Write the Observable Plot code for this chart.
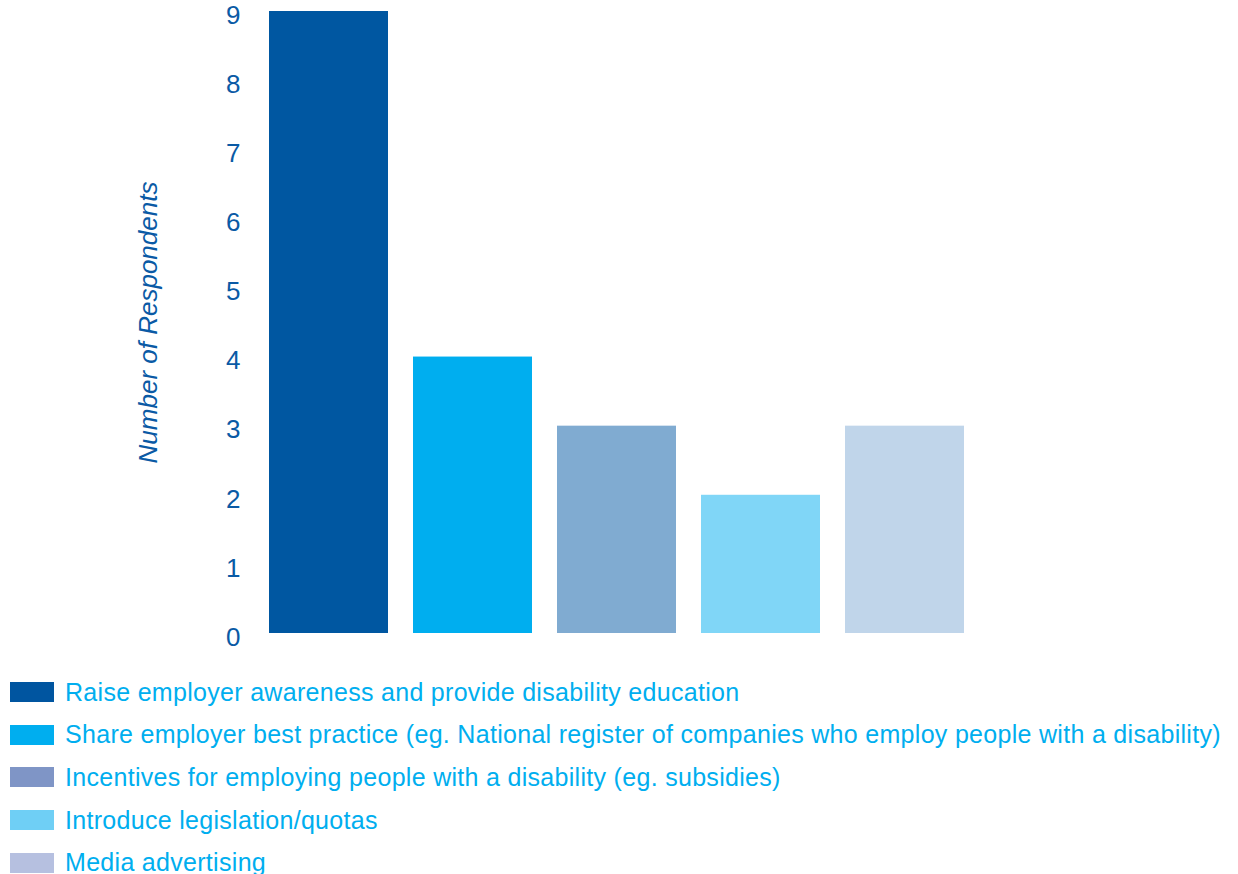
<!DOCTYPE html>
<html>
<head>
<meta charset="utf-8">
<script src="https://cdn.jsdelivr.net/npm/d3@7"></script>
<script src="https://cdn.jsdelivr.net/npm/@observablehq/plot@0.6"></script>
<style>
  html, body { margin: 0; padding: 0; background: #fff; width: 1238px; height: 874px; overflow: hidden; }
  body { font-family: "Liberation Sans", Arial, sans-serif; }
  #chart svg { display: block; overflow: visible; }
  [aria-label="y-axis label"] text { font-style: italic; }
  #legend { margin-top: 26px; }
  .row { display: flex; align-items: center; height: 42.6px; }
  .sw { width: 44px; height: 20px; margin-left: 10px; margin-right: 11px; flex: none; }
  .lab { color: #00aeef; font-size: 25px; letter-spacing: 0.3px; white-space: nowrap; }
</style>
</head>
<body>
<div id="chart"></div>
<div id="legend"></div>
<script>
const categories = [
  "Raise employer awareness and provide disability education",
  "Share employer best practice (eg. National register of companies who employ people with a disability)",
  "Incentives for employing people with a disability (eg. subsidies)",
  "Introduce legislation/quotas",
  "Media advertising"
];
const respondents = [9, 4, 3, 2, 3];
const barColors = ["#0057a1", "#00aeef", "#80abd1", "#80d6f7", "#c0d5ea"];
const legendColors = ["#0055a0", "#00aeef", "#7f95c6", "#6fcff5", "#b6c0e0"];
const yTicks = [0, 1, 2, 3, 4, 5, 6, 7, 8, 9];

const data = categories.map((c, i) => ({category: c, value: respondents[i], color: barColors[i]}));

const chart = Plot.plot({
  width: 1238,
  height: 645,
  marginLeft: 269,
  marginRight: 273,
  marginTop: 11,
  marginBottom: 12,
  style: {fontFamily: "Liberation Sans, Arial, sans-serif", background: "transparent"},
  x: {domain: categories, paddingInner: 0.173, paddingOuter: 0, axis: null},
  y: {domain: [0, 9]},
  marks: [
    Plot.barY(data, {x: "category", y: "value", fill: "color"}),
    Plot.axisY({
      ticks: yTicks,
      tickSize: 0,
      tickPadding: 29,
      fontSize: 26,
      dy: 4,
      color: "#0a5aa5",
      label: "Number of Respondents",
      labelAnchor: "center",
      labelArrow: "none",
      labelOffset: 131
    })
  ]
});
document.getElementById("chart").appendChild(chart);

const legend = d3.select("#legend");
categories.forEach((c, i) => {
  const row = legend.append("div").attr("class", "row");
  row.append("div").attr("class", "sw").style("background", legendColors[i]);
  row.append("div").attr("class", "lab").text(c);
});
</script>
</body>
</html>
